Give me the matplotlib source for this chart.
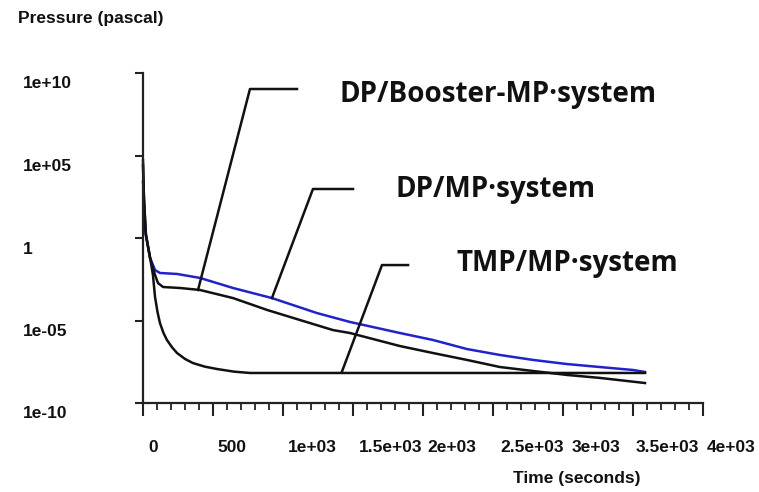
import matplotlib
matplotlib.use("Agg")
import matplotlib.pyplot as plt
import matplotlib.transforms as mtransforms
import numpy as np

# time (s) and log10(pressure / Pa)
t_dpmp = [0, 4, 14, 50, 86, 121, 243, 407, 643, 921, 1243, 1479, 1836, 2071,
          2314, 2550, 2786, 3029, 3264, 3500, 3586]
logp_dpmp = [3.4, 3.0, 0.5, -1.2, -1.94, -2.12, -2.18, -2.42, -3.03, -3.64, -4.55,
             -5.09, -5.76, -6.18, -6.73, -7.09, -7.39, -7.64, -7.82, -8.0, -8.12]

t_booster = [0, 7, 21, 50, 86, 107, 143, 264, 407, 643, 886, 1121, 1357, 1479,
             1836, 2071, 2314, 2550, 2786, 3029, 3264, 3586]
logp_booster = [4.7, 2.3, 0.18, -1.2, -2.24, -2.73, -2.97, -3.03, -3.15, -3.64, -4.36,
                -4.97, -5.58, -5.76, -6.55, -6.97, -7.39, -7.82, -8.06, -8.3, -8.48, -8.79]

t_tmp = [0, 7, 21, 50, 71, 86, 104, 121, 146, 171, 207, 243, 300, 357, 443, 529,
         650, 764, 3586]
logp_tmp = [4.4, 2.3, 0.18, -1.15, -2.24, -3.58, -4.5, -5.15, -5.75, -6.18, -6.62,
            -6.97, -7.33, -7.58, -7.8, -7.94, -8.1, -8.18, -8.18]

ytick_vals = [1e-10, 1e-5, 1, 1e5, 1e10]
ytick_labels = ["1e-10", "1e-05", "1", "1e+05", "1e+10"]
xtick_vals = list(range(0, 4001, 500))
xtick_labels = ["0", "500", "1e+03", "1.5e+03", "2e+03", "2.5e+03", "3e+03",
                "3.5e+03", "4e+03"]
# where the x labels sit in the picture (pixels), they drift off their ticks
xlabel_px = [153, 232, 312, 391, 452, 532, 596, 667, 731]

# name, text anchor (t, log10 p), leader line (t list, log10 p list)
callouts = [
    ("DP/Booster-MP\u00b7system", (1400, 8.7), ([1100, 764, 393], [9.03, 9.03, -3.15])),
    ("DP/MP\u00b7system", (1805, 2.95), ([1500, 1214, 921], [2.97, 2.97, -3.64])),
    ("TMP/MP\u00b7system", (2240, -1.55), ([1893, 1707, 1421], [-1.64, -1.64, -8.1])),
]

W, H = 759, 492
fig = plt.figure(figsize=(W / 100, H / 100), dpi=100)
ax = fig.add_axes([143 / W, (H - 403) / H, 560 / W, 330 / H])

ax.plot(t_dpmp, 10.0 ** np.array(logp_dpmp), color="#2222cc", lw=1.8, clip_on=False)
ax.plot(t_booster, 10.0 ** np.array(logp_booster), color="#111111", lw=1.8, clip_on=False)
ax.plot(t_tmp, 10.0 ** np.array(logp_tmp), color="#111111", lw=1.8, clip_on=False)

ax.set_yscale("log")
ax.set_ylim(1e-10, 1e10)
ax.set_xlim(0, 4000)
for s in ["top", "right"]:
    ax.spines[s].set_visible(False)
for s in ["left", "bottom"]:
    ax.spines[s].set_linewidth(1.6)
    ax.spines[s].set_color("#222222")

ax.set_yticks(ytick_vals)
ax.set_yticklabels([])
ax.yaxis.set_minor_locator(matplotlib.ticker.NullLocator())
ax.set_xticks(xtick_vals)
ax.set_xticklabels([])
ax.set_xticks(range(0, 4001, 100), minor=True)
ax.tick_params(axis="y", which="major", length=6, width=1.5, color="#222222")
ax.tick_params(axis="x", which="major", length=9, width=1.5, color="#222222")
ax.tick_params(axis="x", which="minor", length=5, width=1.3, color="#222222")

lab_font = dict(family="Liberation Sans", weight="bold", size=12.5, color="#111111")

ytrans = mtransforms.blended_transform_factory(fig.transFigure, ax.transData)
ytrans = mtransforms.offset_copy(ytrans, fig=fig, y=-11, units="dots")
for v, lab in zip(ytick_vals, ytick_labels):
    ax.text(23 / W, v, lab, transform=ytrans, ha="left", va="center", **lab_font)

for px, lab in zip(xlabel_px, xtick_labels):
    fig.text(px / W, 1 - 447 / H, lab, ha="center", va="center", **lab_font)

fig.text(18 / W, 1 - 18 / H, "Pressure (pascal)", ha="left", va="center",
         family="Liberation Sans", weight="bold", size=12.5, color="#111111")
fig.text(577 / W, 1 - 478 / H, "Time (seconds)", ha="center", va="center",
         family="Liberation Sans", weight="bold", size=12.5, color="#111111")

for name, (tx, ty), (lx, ly) in callouts:
    ax.plot(lx, 10.0 ** np.array(ly), color="#111111", lw=1.8, clip_on=False)
    ax.text(tx, 10.0 ** ty, name, ha="left", va="center", family="Open Sans",
            weight="bold", size=20, color="#111111")

fig.savefig("out.png", dpi=100)
